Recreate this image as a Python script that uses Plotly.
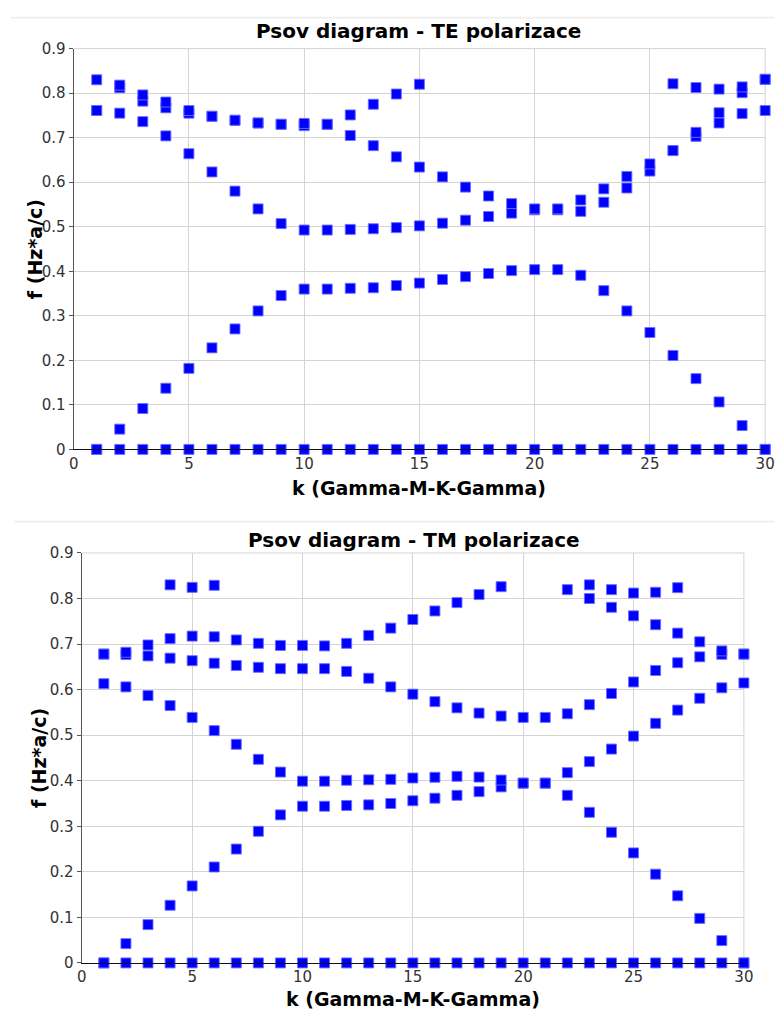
import plotly.graph_objects as go

k = list(range(1, 31))

# ---- TE polarization bands ----
te_zero = [0.0] * 30
te_b1 = [0.0, 0.0455, 0.0918, 0.1374, 0.182, 0.228, 0.2705, 0.311, 0.3455, 0.360,
         0.360, 0.3618, 0.363, 0.368, 0.3735, 0.3816, 0.388, 0.395, 0.4015, 0.4037,
         0.4037, 0.391, 0.3565, 0.311, 0.2625, 0.211, 0.159, 0.1066, 0.0536, 0.0]
te_b2 = [0.761, 0.755, 0.736, 0.704, 0.664, 0.623, 0.580, 0.540, 0.507, 0.4926,
         0.4926, 0.494, 0.4955, 0.498, 0.502, 0.508, 0.5147, 0.523, 0.5305, 0.538,
         0.538, 0.5345, 0.555, 0.587, 0.625, 0.671, 0.703, 0.733, 0.754, 0.761]
te_b3 = [0.761, 0.812, 0.782, 0.767, 0.755, 0.748, 0.739, 0.733, 0.730, 0.727,
         0.730, 0.705, 0.682, 0.657, 0.634, 0.612, 0.589, 0.569, 0.552, 0.540,
         0.540, 0.560, 0.585, 0.613, 0.641, 0.671, 0.712, 0.756, 0.801, 0.831]
te_b4 = [0.830, 0.818, 0.796, 0.780, 0.761, 0.748, 0.739, 0.733, 0.730, 0.732,
         0.730, 0.751, 0.775, 0.798, 0.820, None, None, None, None, None,
         None, None, None, None, None, 0.821, 0.8125, 0.809, 0.814, 0.831]

# ---- TM polarization bands ----
tm_zero = [0.0] * 30
tm_b1 = [0.0, 0.0424, 0.0841, 0.1266, 0.169, 0.2106, 0.250, 0.289, 0.325, 0.344,
         0.344, 0.3457, 0.347, 0.350, 0.356, 0.3616, 0.368, 0.376, 0.3865, 0.3947,
         0.3947, 0.368, 0.3306, 0.2868, 0.2415, 0.1948, 0.1474, 0.0978, 0.049, 0.0]
tm_b2 = [0.613, 0.606, 0.587, 0.565, 0.539, 0.510, 0.480, 0.447, 0.419, 0.399,
         0.399, 0.401, 0.402, 0.403, 0.406, 0.4076, 0.4097, 0.408, 0.4015, 0.3947,
         0.3947, 0.4177, 0.442, 0.4695, 0.498, 0.526, 0.555, 0.581, 0.604, 0.6146]
tm_b3 = [0.678, 0.677, 0.674, 0.669, 0.6635, 0.658, 0.653, 0.649, 0.646, 0.646,
         0.646, 0.640, 0.625, 0.606, 0.590, 0.5736, 0.560, 0.5485, 0.542, 0.539,
         0.539, 0.547, 0.567, 0.5915, 0.6168, 0.642, 0.659, 0.672, 0.6775, 0.678]
tm_b4 = [0.678, 0.682, 0.698, 0.712, 0.7175, 0.716, 0.709, 0.7016, 0.697, 0.697,
         0.696, 0.7016, 0.719, 0.735, 0.754, 0.7727, 0.791, 0.8087, 0.826, None,
         None, 0.8195, 0.800, 0.7807, 0.762, 0.7425, 0.724, 0.705, 0.685, 0.678]
tm_b5 = [None, None, None, 0.830, 0.8245, 0.829, None, None, None, None,
         None, None, None, None, None, None, None, None, None, None,
         None, None, 0.830, 0.8195, 0.812, 0.8137, 0.8238, None, None, None]

x_ticks = [0, 5, 10, 15, 20, 25, 30]
y_ticks = [0, 0.1, 0.2, 0.3, 0.4, 0.5, 0.6, 0.7, 0.8, 0.9]
y_ticktext = ["0", "0.1", "0.2", "0.3", "0.4", "0.5", "0.6", "0.7", "0.8", "0.9"]

title_te = "Psov diagram - TE polarizace"
title_tm = "Psov diagram - TM polarizace"
x_title = "k (Gamma-M-K-Gamma)"
y_title = "f (Hz*a/c)"

W, H = 784, 1024
FONT = "DejaVu Sans"

marker = dict(symbol="square", size=10, color="#0000ff",
              line=dict(width=1, color="rgba(110,110,255,0.9)"))

fig = go.Figure()
for band in [te_zero, te_b1, te_b2, te_b3, te_b4]:
    fig.add_trace(go.Scatter(x=k, y=band, mode="markers", marker=marker,
                             xaxis="x", yaxis="y", cliponaxis=False,
                             showlegend=False, hoverinfo="x+y"))
for band in [tm_zero, tm_b1, tm_b2, tm_b3, tm_b4, tm_b5]:
    fig.add_trace(go.Scatter(x=k, y=band, mode="markers", marker=marker,
                             xaxis="x2", yaxis="y2", cliponaxis=False,
                             showlegend=False, hoverinfo="x+y"))

def px_x(p):
    return p / W

def px_y(p):
    return 1 - p / H

# plot areas in pixels
top = dict(l=70, r=775, t=40.3, b=448.3)
bot = dict(l=78.3, r=753.3, t=553.7, b=971)

def xaxis(domain, anchor):
    return dict(domain=domain, anchor=anchor, range=[0, 30], tickvals=x_ticks,
                showgrid=True, gridcolor="#d4d4d4", gridwidth=1,
                zeroline=False, showline=True, linecolor="#111111", linewidth=1.3,
                ticks="", tickfont=dict(family=FONT, size=15, color="#333333"),
                fixedrange=True)

def yaxis(domain, anchor):
    return dict(domain=domain, anchor=anchor, range=[0, 0.9], tickvals=y_ticks,
                ticktext=y_ticktext,
                showgrid=True, gridcolor="#d4d4d4", gridwidth=1,
                zeroline=False, showline=True, linecolor="#555555", linewidth=1.3,
                ticks="outside", ticklen=4, tickcolor="#555555",
                tickfont=dict(family=FONT, size=15, color="#333333"),
                fixedrange=True)

fig.update_layout(
    width=W, height=H,
    margin=dict(l=0, r=0, t=0, b=0),
    paper_bgcolor="white", plot_bgcolor="white",
    xaxis=xaxis([px_x(top["l"]), px_x(top["r"])], "y"),
    yaxis=yaxis([px_y(top["b"]), px_y(top["t"])], "x"),
    xaxis2=xaxis([px_x(bot["l"]), px_x(bot["r"])], "y2"),
    yaxis2=yaxis([px_y(bot["b"]), px_y(bot["t"])], "x2"),
)

# gridline at top and right edges
for xa, ya in [("x", "y"), ("x2", "y2")]:
    fig.add_shape(type="line", xref=xa + " domain", yref=ya + " domain",
                  x0=0, x1=1, y0=1, y1=1, line=dict(color="#d4d4d4", width=1), layer="below")
    fig.add_shape(type="line", xref=xa + " domain", yref=ya + " domain",
                  x0=1, x1=1, y0=0, y1=1, line=dict(color="#d4d4d4", width=1), layer="below")

# faint separator lines
fig.add_shape(type="line", xref="paper", yref="paper", x0=px_x(6), x1=1,
              y0=px_y(9), y1=px_y(9), line=dict(color="#f0f0f0", width=2))
fig.add_shape(type="line", xref="paper", yref="paper", x0=px_x(10), x1=1,
              y0=px_y(522), y1=px_y(522), line=dict(color="#f0f0f0", width=2))

tfont = dict(family=FONT, size=20, color="black")
afont = dict(family=FONT, size=19, color="black")
ann = [
    dict(text="<b>" + title_te + "</b>", x=px_x(422), y=px_y(22), font=tfont),
    dict(text="<b>" + title_tm + "</b>", x=px_x(417), y=px_y(540), font=tfont),
    dict(text="<b>" + x_title + "</b>", x=px_x(422), y=px_y(488), font=afont),
    dict(text="<b>" + x_title + "</b>", x=px_x(416), y=px_y(1008), font=afont),
]
for a in ann:
    fig.add_annotation(xref="paper", yref="paper", showarrow=False,
                       xanchor="center", yanchor="middle", **a)
for yc, xc in [(244, 30), (762, 34)]:
    fig.add_annotation(xref="paper", yref="paper", showarrow=False,
                       xanchor="center", yanchor="middle", textangle=-90,
                       text="<b>" + y_title + "</b>", x=px_x(xc), y=px_y(yc), font=afont)

fig.write_html("out.html", config={"displayModeBar": False},
               post_script="document.body.style.margin='0';document.body.style.overflow='hidden';")
